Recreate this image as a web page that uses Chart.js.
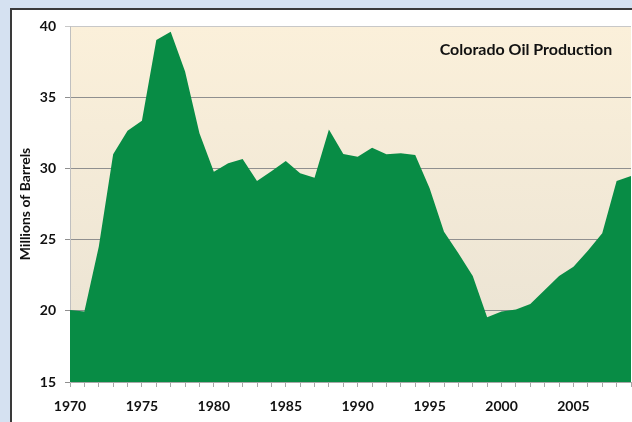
<!DOCTYPE html>
<html>
<head>
<meta charset="utf-8">
<script src="https://cdn.jsdelivr.net/npm/chart.js@4"></script>
<style>
html,body{margin:0;padding:0;width:632px;height:422px;overflow:hidden;background:#d5e1f1;}
#panel{position:absolute;left:10px;top:8px;width:640px;height:440px;background:#fff;border-left:2px solid #3a3a3a;border-top:2px solid #3a3a3a;}
#wrap{position:absolute;left:0;top:0;width:632px;height:422px;}
</style>
</head>
<body>
<div id="panel"></div>
<div id="wrap"><canvas id="c" width="632" height="422"></canvas></div>
<script>
const years = [];
for (let y = 1970; y <= 2009; y++) years.push(String(y));
const production = [
  20.06, 19.95, 24.5, 31.0, 32.65, 33.35, 39.02, 39.6, 36.8, 32.46,
  29.77, 30.36, 30.66, 29.12, 29.8, 30.52, 29.66, 29.35, 32.74, 31.01,
  30.82, 31.45, 31.0, 31.06, 30.94, 28.6, 25.56, 24.04, 22.44, 19.54,
  19.95, 20.1, 20.48, 21.46, 22.44, 23.1, 24.22, 25.44, 29.12, 29.47
];
const yTicks = [15, 20, 25, 30, 35, 40];
const chartTitle = 'Colorado Oil Production';
const yTitle = 'Millions of Barrels';

const FONT = 'Lato, "Open Sans", "Liberation Sans", sans-serif';

const bgPlugin = {
  id: 'bgPlugin',
  beforeDraw(chart) {
    const {ctx, chartArea: a} = chart;
    const g = ctx.createLinearGradient(0, a.top, 0, a.bottom);
    g.addColorStop(0, '#fbf0da');
    g.addColorStop(1, '#e9e2d3');
    ctx.save();
    ctx.fillStyle = g;
    ctx.fillRect(a.left, a.top, a.right - a.left, a.bottom - a.top);
    ctx.restore();
  },
  afterDatasetsDraw(chart) {
    const {ctx} = chart;
    ctx.save();
    ctx.font = 'bold 16px ' + FONT;
    ctx.fillStyle = '#111';
    ctx.textAlign = 'center';
    ctx.textBaseline = 'middle';
    ctx.fillText(chartTitle, 526, 50);
    ctx.restore();
  }
};

new Chart(document.getElementById('c'), {
  type: 'line',
  data: {
    labels: years,
    datasets: [{
      data: production,
      fill: 'start',
      backgroundColor: '#088c45',
      borderColor: '#088c45',
      borderWidth: 0,
      pointRadius: 0,
      tension: 0
    }]
  },
  options: {
    responsive: false,
    animation: false,
    layout: {padding: {top: 26, right: 1, left: 0, bottom: 0}},
    plugins: {legend: {display: false}, tooltip: {enabled: false}, title: {display: false}},
    scales: {
      x: {
        type: 'category',
        offset: false,
        afterFit(s) { s.height = 40; s.paddingLeft = 0; s.paddingRight = 0; },
        grid: {drawOnChartArea: false, drawTicks: true, tickLength: 5, color: '#a8a8a8'},
        border: {display: true, color: '#a8a8a8'},
        ticks: {
          autoSkip: false, maxRotation: 0, minRotation: 0, padding: 11,
          color: '#111', font: {family: FONT, size: 14, weight: 'bold'},
          callback(v, i) { const y = years[i]; return (Number(y) % 5 === 0) ? y : ''; }
        }
      },
      y: {
        min: 15, max: 40,
        afterFit(s) { s.width = 70; s.paddingTop = 0; s.paddingBottom = 0; },
        afterBuildTicks(s) { s.ticks = yTicks.map(v => ({value: v})); },
        grid: {
          color(ctx) { return ctx.tick && ctx.tick.value === 40 ? '#c8c8c8' : '#8f8f8f'; },
          tickLength: 5, lineWidth: 1
        },
        border: {display: true, color: '#c0c0c0'},
        ticks: {
          padding: 9, color: '#111', font: {family: FONT, size: 14, weight: 'bold'}
        },
        title: {
          display: true, text: yTitle, color: '#111',
          font: {family: FONT, size: 14, weight: 'bold'},
          padding: {top: 17, bottom: 0}
        }
      }
    }
  },
  plugins: [bgPlugin]
});
</script>
</body>
</html>
